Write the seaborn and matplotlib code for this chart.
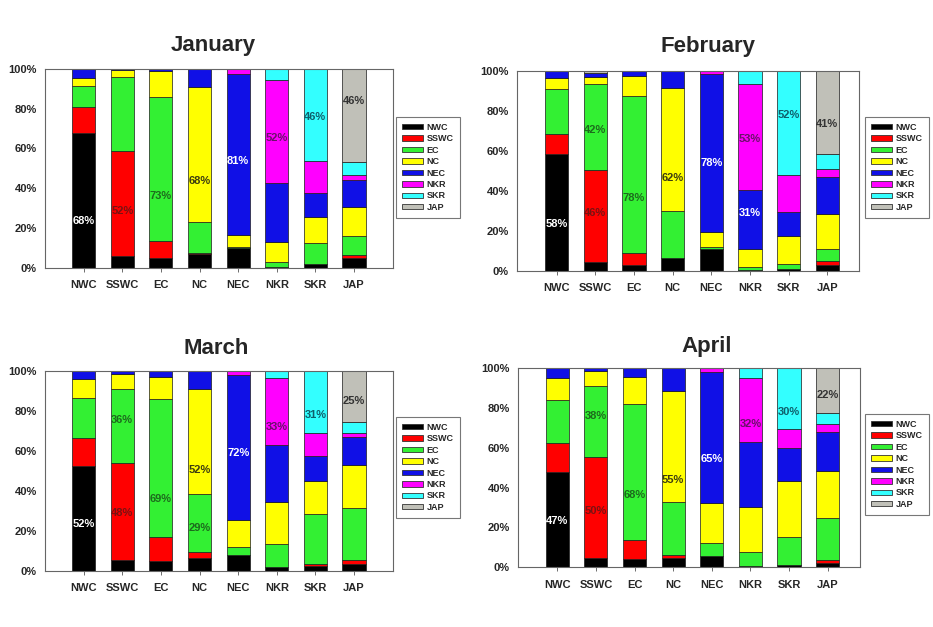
import numpy as np
import matplotlib
matplotlib.use("Agg")
import matplotlib.pyplot as plt
from matplotlib.patches import Patch
import seaborn as sns

sns.set_theme(style="white")
plt.rcParams['font.family'] = ['Liberation Sans', 'DejaVu Sans']
plt.rcParams['font.weight'] = 'bold'

# ---------------- data ----------------
CATEGORIES = ["NWC", "SSWC", "EC", "NC", "NEC", "NKR", "SKR", "JAP"]
SERIES = ["NWC", "SSWC", "EC", "NC", "NEC", "NKR", "SKR", "JAP"]
YTICKS = [0, 20, 40, 60, 80, 100]
YTICK_LABELS = ["0%", "20%", "40%", "60%", "80%", "100%"]
MONTHS = ["January", "February", "March", "April"]

# rows: bar (category), columns: series share in %
JANUARY = [
    [68, 13, 10.5, 4, 4.5, 0, 0, 0],
    [6, 52.5, 37.5, 3.5, 0.5, 0, 0, 0],
    [5, 8.3, 72.7, 13, 1, 0, 0, 0],
    [7, 0.3, 15.7, 68, 9, 0, 0, 0],
    [10, 0, 0.3, 6, 81.2, 2.5, 0, 0],
    [0.5, 0, 2.5, 10, 29.7, 51.8, 5.5, 0],
    [2, 0, 10.2, 13.1, 12.4, 16, 46.3, 0],
    [5, 1.3, 9.7, 14.3, 14, 2.2, 6.7, 46.8],
]
FEBRUARY = [
    [58.6, 10.1, 22.3, 5.3, 3.7, 0, 0, 0],
    [4.2, 46.4, 42.7, 3.5, 2, 0, 0, 1.2],
    [3, 6, 78.4, 10.3, 2.3, 0, 0, 0],
    [6.4, 0, 23.6, 61.5, 8.5, 0, 0, 0],
    [10.9, 0, 1.1, 7.4, 78.9, 1.7, 0, 0],
    [0.5, 0, 1.5, 9, 29.2, 53.4, 6.4, 0],
    [1, 0, 2.4, 13.9, 12, 18.8, 51.9, 0],
    [3, 1.7, 6.2, 17.4, 18.6, 4.2, 7.5, 41.4],
]
MARCH = [
    [52.2, 14, 20.4, 9.2, 4.2, 0, 0, 0],
    [5.4, 48.6, 37, 7.7, 1.3, 0, 0, 0],
    [5, 11.9, 69.2, 10.9, 3, 0, 0, 0],
    [6.4, 3.1, 29.1, 52.4, 9, 0, 0, 0],
    [7.9, 0, 3.8, 13.9, 72.6, 1.8, 0, 0],
    [1.7, 0, 11.7, 21.2, 28.1, 33.8, 3.5, 0],
    [2.5, 0.8, 25, 16.5, 12.6, 11.7, 30.9, 0],
    [3.3, 2.1, 26, 21.4, 14.1, 2.3, 5.5, 25.3],
]
APRIL = [
    [47.7, 14.7, 21.4, 11.5, 4.7, 0, 0, 0],
    [4.5, 50.7, 35.9, 7.6, 1.3, 0, 0, 0],
    [4.2, 9.5, 68.2, 13.8, 4.3, 0, 0, 0],
    [4.7, 1.5, 26.6, 55.8, 11.4, 0, 0, 0],
    [5.7, 0, 6.2, 20.2, 66.1, 1.8, 0, 0],
    [0.3, 0, 7.4, 22.6, 32.6, 32.1, 5, 0],
    [1, 0, 14.2, 28.3, 16.5, 9.2, 30.8, 0],
    [2, 1.7, 20.9, 23.9, 19.6, 3.8, 5.7, 22.4],
]

# annotations: (bar index, series index, text, y value in %)
JANUARY_LABELS = [(0, 0, "68%", 23.3), (1, 1, "52%", 28.3), (2, 2, "73%", 36.3),
                  (3, 3, "68%", 43.8), (4, 4, "81%", 53.8), (5, 5, "52%", 65.5),
                  (6, 6, "46%", 75.8), (7, 7, "46%", 83.7)]
FEBRUARY_LABELS = [(0, 0, "58%", 23.5), (1, 1, "46%", 28.8), (1, 2, "42%", 70.4),
                   (2, 2, "78%", 36.3), (3, 3, "62%", 46.4), (4, 4, "78%", 53.9),
                   (5, 4, "31%", 29.1), (5, 5, "53%", 65.7), (6, 6, "52%", 78.2),
                   (7, 7, "41%", 73.7)]
MARCH_LABELS = [(0, 0, "52%", 23.4), (1, 1, "48%", 28.8), (1, 2, "36%", 75.6),
                (2, 2, "69%", 36.0), (3, 3, "52%", 50.2), (3, 2, "29%", 21.3),
                (4, 4, "72%", 58.9), (5, 5, "33%", 72.2), (6, 6, "31%", 78.1),
                (7, 7, "25%", 84.8)]
APRIL_LABELS = [(0, 0, "47%", 23.4), (1, 1, "50%", 28.4), (1, 2, "38%", 75.9),
                (2, 2, "68%", 36.3), (3, 3, "55%", 43.8), (4, 4, "65%", 54.2),
                (5, 5, "32%", 71.9), (6, 6, "30%", 78.0), (7, 7, "22%", 86.5)]

# ---------------- style ----------------
COLORS = ["#000000", "#ff0000", "#33f033", "#ffff00", "#1010e6", "#ff00ff", "#33ffff", "#c0c0b8"]
TEXT_COLORS = ["#ffffff", "#7a1212", "#1d6b1d", "#3d3d10", "#ffffff", "#6b106b", "#0f5f6b", "#333333"]

W, H = 933, 627
fig = plt.figure(figsize=(W / 100, H / 100), dpi=100)

# (left, right, top, bottom) in pixels, xlim
PANELS = [
    dict(box=(45, 392.7, 69, 267.7), xlim=(-1.0, 8.0), title=(212.8, 45), leg=(396, 117)),
    dict(box=(517.3, 859.3, 71, 270.7), xlim=(-1.02, 7.83), title=(707.5, 46.7), leg=(865, 117)),
    dict(box=(45, 392.7, 371, 570.7), xlim=(-1.0, 8.0), title=(216, 348.3), leg=(396, 417)),
    dict(box=(518.3, 860, 368.3, 567), xlim=(-1.01, 7.84), title=(706.5, 346.7), leg=(865, 414)),
]
DATA = [JANUARY, FEBRUARY, MARCH, APRIL]
LABELS = [JANUARY_LABELS, FEBRUARY_LABELS, MARCH_LABELS, APRIL_LABELS]

for month, data, labels, p in zip(MONTHS, DATA, LABELS, PANELS):
    l, r, t, b = p["box"]
    ax = fig.add_axes([l / W, 1 - b / H, (r - l) / W, (b - t) / H])
    mat = np.array(data, dtype=float)
    bottom = np.zeros(len(CATEGORIES))
    for j, s in enumerate(SERIES):
        vals = mat[:, j]
        sns.barplot(x=CATEGORIES, y=vals, bottom=bottom, order=CATEGORIES,
                    color=COLORS[j], saturation=1, width=0.6, errorbar=None,
                    edgecolor="#1a1a1a", linewidth=0.5, ax=ax)
        bottom = bottom + vals
    for (bi, si, txt, yv) in labels:
        ax.text(bi, yv, txt, ha="center", va="center", fontsize=8,
                fontweight="bold", color=TEXT_COLORS[si])
    ax.set_xlim(*p["xlim"])
    ax.set_ylim(0, 100)
    ax.set_yticks(YTICKS)
    ax.set_yticklabels(YTICK_LABELS, fontsize=8, fontweight="bold")
    ax.set_xticks(range(len(CATEGORIES)))
    ax.set_xticklabels(CATEGORIES, fontsize=8, fontweight="bold")
    ax.tick_params(axis="y", length=0, pad=6)
    ax.tick_params(axis="x", length=3, width=0.6, color="#555555", direction="out", pad=6, bottom=True)
    ax.set_xlabel("")
    ax.set_ylabel("")
    for sp in ax.spines.values():
        sp.set_color("#666666")
        sp.set_linewidth(0.8)
    fig.text(p["title"][0] / W, 1 - p["title"][1] / H, month, ha="center", va="center",
             fontsize=16, fontweight="bold")
    handles = [Patch(facecolor=c, edgecolor="#333333", linewidth=0.6, label=s)
               for c, s in zip(COLORS, SERIES)]
    leg = fig.legend(handles=handles, loc="upper left",
                     bbox_to_anchor=(p["leg"][0] / W, 1 - p["leg"][1] / H),
                     frameon=True, fancybox=False, fontsize=6.5, handlelength=2.3,
                     handleheight=0.55, labelspacing=0.27, borderpad=0.65,
                     handletextpad=0.45, borderaxespad=0)
    leg.get_frame().set_edgecolor("#555555")
    leg.get_frame().set_linewidth(0.8)
    for tx in leg.get_texts():
        tx.set_fontweight("bold")

fig.savefig("out.png", dpi=100)
